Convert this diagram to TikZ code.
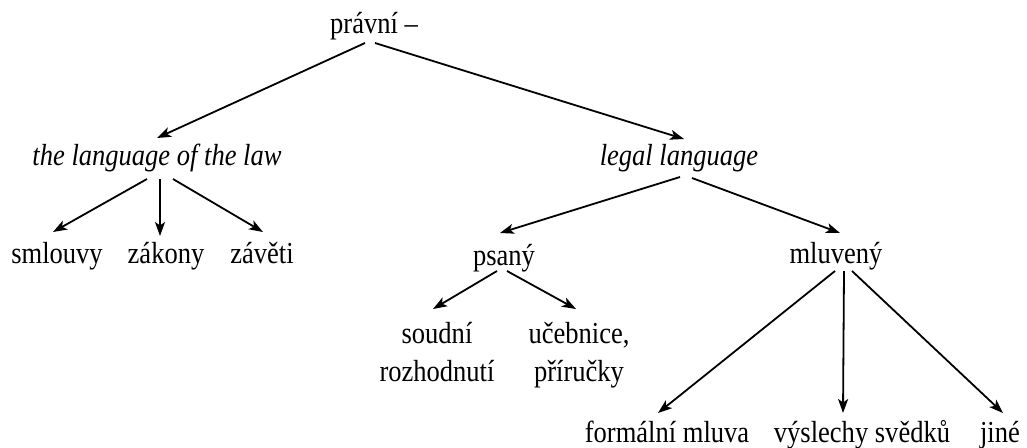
\documentclass[tikz,border=0pt]{standalone}
\usepackage{fontspec}
\setmainfont{Liberation Serif}[FakeStretch=0.87]
\usetikzlibrary{arrows.meta}
\begin{document}
\begin{tikzpicture}[x=1pt,y=-1pt,
  lbl/.style={font=\fontsize{30.5}{38.5}\selectfont, inner sep=0pt, anchor=base},
  lbl2/.style={font=\fontsize{30.5}{38.5}\selectfont, inner sep=0pt, anchor=north, align=center},
  arr/.style={line width=1.8pt, -{Stealth[length=14pt,width=10pt,inset=3.5pt]}}]
\useasboundingbox (0,0) rectangle (1027,447);
\node[lbl] (p) at (374,33) {právní –};
\node[lbl] (t) at (157,165) {\itshape the language of the law};
\node[lbl] (l) at (679,165) {\itshape legal language};
\node[lbl] (s) at (57,263) {smlouvy};
\node[lbl] (z) at (166,263) {zákony};
\node[lbl] (v) at (262,263) {závěti};
\node[lbl] (ps) at (504,265) {psaný};
\node[lbl] (ml) at (836,263) {mluvený};
\node[lbl2] (so) at (437,322) {soudní\\rozhodnutí};
\node[lbl2] (uc) at (579,322) {učebnice,\\příručky};
\node[lbl] (fm) at (667,442) {formální mluva};
\node[lbl] (vs) at (862,442) {výslechy svědků};
\node[lbl] (ji) at (1000,442) {jiné};

\draw[arr] ([shift={(-9,10)}]p.base) -- ([shift={(0,-27)}]t.base);
\draw[arr] ([shift={(1,10)}]p.base) -- ([shift={(5,-26)}]l.base);
\draw[arr] ([shift={(-10,14)}]t.base) -- ([shift={(-4,-31)}]s.base);
\draw[arr] ([shift={(3,14)}]t.base) -- ([shift={(-6,-27)}]z.base);
\draw[arr] ([shift={(16,14)}]t.base) -- ([shift={(1,-31)}]v.base);
\draw[arr] ([shift={(1,12)}]l.base) -- ([shift={(-4,-32)}]ps.base);
\draw[arr] ([shift={(13,13)}]l.base) -- ([shift={(4,-30)}]ml.base);
\draw[arr] ([shift={(-7,6)}]ps.base) -- ([shift={(-4,-13)}]so.north);
\draw[arr] ([shift={(3,6)}]ps.base) -- ([shift={(-3,-13)}]uc.north);
\draw[arr] ([shift={(-1,8)}]ml.base) -- ([shift={(-9,-29)}]fm.base);
\draw[arr] ([shift={(8,8)}]ml.base) -- ([shift={(-19,-29)}]vs.base);
\draw[arr] ([shift={(16,8)}]ml.base) -- ([shift={(3,-29)}]ji.base);
\end{tikzpicture}
\end{document}
